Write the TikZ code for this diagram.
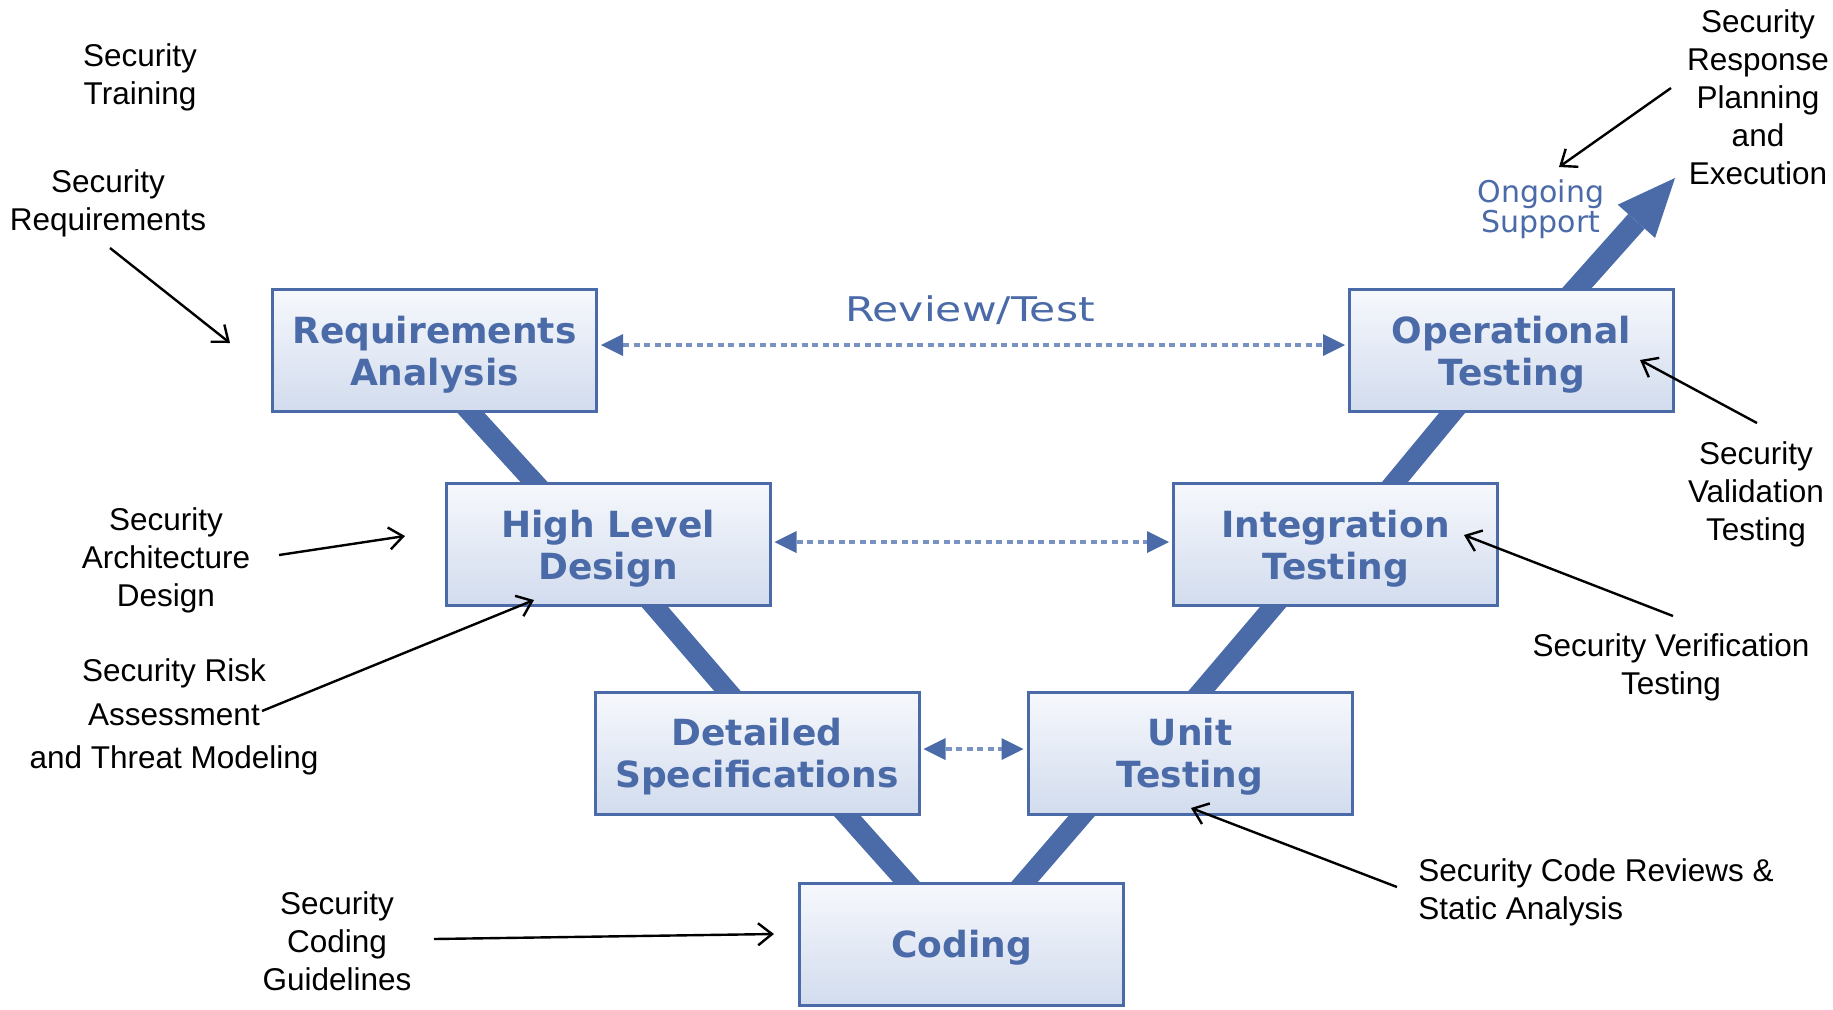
\documentclass[tikz,border=0pt]{standalone}
\usepackage{fontspec}
\setmainfont{Liberation Sans}
\newfontfamily\stagefont{DejaVu Sans}
\newfontfamily\reviewfont{DejaVu Sans}[FakeStretch=1.25]
\usetikzlibrary{arrows.meta,calc,backgrounds}

\definecolor{vblue}{HTML}{4A6AA8}
\definecolor{dotblue}{HTML}{7892C4}
\definecolor{boxtop}{HTML}{F6F8FC}
\definecolor{boxbot}{HTML}{D2DCEE}

\begin{document}
\begin{tikzpicture}[x=0.5pt,y=-0.5pt,
  stage/.style={draw=vblue, line width=1.5pt, top color=boxtop, bottom color=boxbot,
    minimum width=162pt, minimum height=61pt, inner sep=0pt, align=center, text depth=0pt,
    font=\stagefont\bfseries\fontsize{18}{21}\selectfont, text=vblue},
  note/.style={inner sep=0pt, align=center, font=\fontsize{15.75}{19}\selectfont, text=black},
  vleg/.style={draw=vblue, line width=10pt, shorten <=-8pt, shorten >=-8pt},
  pointer/.style={draw=black, line width=1.2pt, -{Straight Barb[length=7pt,width=11pt]}},
  review/.style={draw=dotblue, line width=2pt, dash pattern=on 3pt off 2.25pt,
    {Triangle[length=11pt,width=11pt,line width=0pt,color=vblue]}-{Triangle[length=11pt,width=11pt,line width=0pt,color=vblue]},
    shorten <=1.5pt, shorten >=1.5pt}
]
\useasboundingbox (0,0) rectangle (1833,1009);

% V-model stages
\node[stage] (req)    at (434.5,350.5) {Requirements\\Analysis};
\node[stage] (op)     at (1511.5,350.5) {Operational\\Testing};
\node[stage] (hld)    at (608,544.5)   {High Level\\Design};
\node[stage] (int)    at (1335.5,544.5) {Integration\\Testing};
\node[stage] (dets)   at (757,753)     {Detailed\\Specifications};
\node[stage] (unit)   at (1190,753)    {Unit\\Testing};
\node[stage] (coding) at (961.5,944)   {Coding};

% thick legs of the V, behind the stages
\coordinate (optip) at (1675,178);
\begin{pgfonlayer}{background}
  \draw[vleg] ($(req.south)+(36.5,0)$) -- ($(hld.north)+(-74,0)$);
  \draw[vleg] ($(hld.south)+(47,0)$) -- ($(dets.north)+(-30,0)$);
  \draw[vleg] ($(dets.south)+(90,0)$) -- ($(coding.north)+(-55.5,0)$);
  \draw[vleg] ($(coding.north)+(63.5,0)$) -- ($(unit.south)+(-108,0)$);
  \draw[vleg] ($(unit.north)+(12,0)$) -- ($(int.south)+(-62.5,0)$);
  \draw[vleg] ($(int.north)+(59.5,0)$) -- ($(op.south)+(-59.5,0)$);
  \draw[draw=vblue, line width=11pt, shorten <=-8pt,
        -{Triangle[length=29pt,width=25pt,line width=0pt]}]
        ($(op.north)+(65.5,0)$) -- (optip);
\end{pgfonlayer}

% review / test links
\draw[review] ($(req.east)+(0,-5.5)$) -- ($(op.west)+(0,-5.5)$);
\draw[review] ($(hld.east)+(0,-2.5)$) -- ($(int.west)+(0,-2.5)$);
\draw[review] ($(dets.east)+(0,-4)$) -- ($(unit.west)+(0,-4)$);
\node[font=\reviewfont\fontsize{17}{17}\selectfont, text=vblue, inner sep=0pt, anchor=base]
  (revlabel) at (970,321) {Review/Test};
\node[font=\stagefont\fontsize{15}{15}\selectfont, text=vblue, align=center, inner sep=0pt]
  (ongoing) at (1541,209.5) {Ongoing\\Support};

% security activities
\node[note] (ttrain) at (140,77)    {Security\\Training};
\node[note] (treq)   at (108,203.5) {Security\\Requirements};
\node[note] (tarch)  at (166,560)   {Security\\Architecture\\Design};
\node[note, font=\fontsize{15.75}{21.75}\selectfont] (trisk) at (174,717)
  {Security Risk\\Assessment\\and Threat Modeling};
\node[note] (tcode)  at (337,941)   {Security\\Coding\\Guidelines};
\node[note] (tresp)  at (1758,97.5) {Security\\Response\\Planning\\and\\Execution};
\node[note] (tval)   at (1756,494)  {Security\\Validation\\Testing};
\node[note] (tver)   at (1671,667)  {Security Verification\\Testing};
\node[note, align=left, anchor=west] (trev) at (1418,892)
  {Security Code Reviews \&\\Static Analysis};

% pointers
\coordinate (p1s) at (110,248);  \coordinate (p1e) at (230,343);
\coordinate (p2s) at (279,555);  \coordinate (p2e) at (405,536);
\coordinate (p3s) at (262,711);  \coordinate (p3e) at (534,600);
\coordinate (p4s) at (434,939);  \coordinate (p4e) at (774,934);
\coordinate (p5s) at (1671,88);  \coordinate (p5e) at (1559,167);
\coordinate (p6s) at (1757,423); \coordinate (p6e) at (1640,360);
\coordinate (p7s) at (1673,616); \coordinate (p7e) at (1464,535);
\coordinate (p8s) at (1397,887); \coordinate (p8e) at (1191,808);
\draw[pointer] (p1s) -- (p1e);
\draw[pointer] (p2s) -- (p2e);
\draw[pointer] (p3s) -- (p3e);
\draw[pointer] (p4s) -- (p4e);
\draw[pointer] (p5s) -- (p5e);
\draw[pointer] (p6s) -- (p6e);
\draw[pointer] (p7s) -- (p7e);
\draw[pointer] (p8s) -- (p8e);
\end{tikzpicture}
\end{document}
